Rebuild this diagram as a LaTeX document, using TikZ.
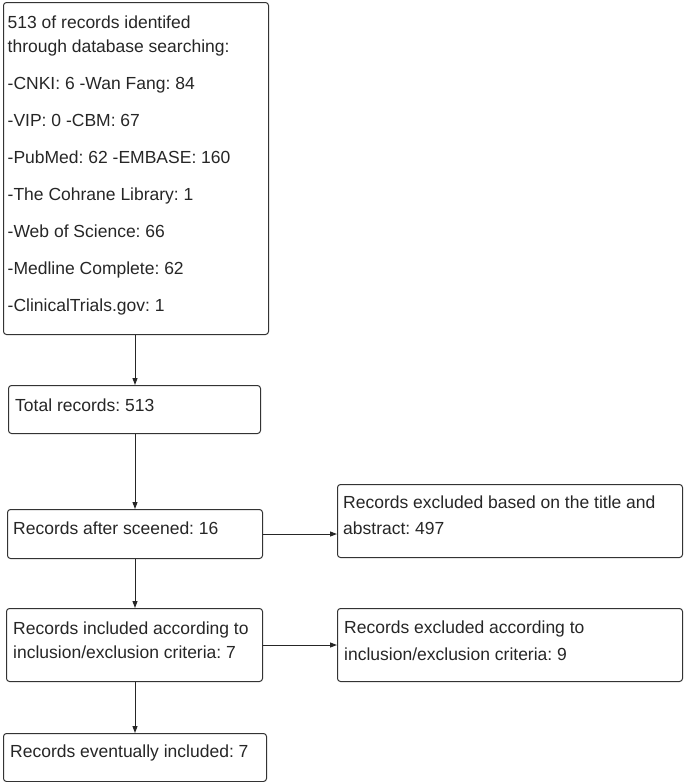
\documentclass[tikz,border=0pt]{standalone}
\usepackage{fontspec}
\setmainfont{Liberation Sans}
\usetikzlibrary{arrows.meta,calc}
\newcommand{\tstrut}{\rule{0pt}{13pt}}
\frenchspacing
\begin{document}
\begin{tikzpicture}[x=1pt,y=-1pt,
  box/.style={draw=black!80, line width=1pt, rounded corners=3pt, anchor=north west, inner sep=0pt},
  txt/.style={anchor=north west, inner sep=0pt, align=left, text=black!85,
    font=\fontsize{17.5}{25}\selectfont\frenchspacing},
  arr/.style={draw=black!85, line width=1pt, -{Triangle[length=7pt,width=5pt]}}]
\useasboundingbox (0,0) rectangle (685,782);
% boxes
\node[box, minimum width=265pt, minimum height=332pt] (b1) at (3,2) {};
\node[box, minimum width=252pt, minimum height=48pt] (b2) at (8,385) {};
\node[box, minimum width=255pt, minimum height=49pt] (b3) at (7,509) {};
\node[box, minimum width=345pt, minimum height=73pt] (b4) at (337,484) {};
\node[box, minimum width=256pt, minimum height=73pt] (b5) at (6,608) {};
\node[box, minimum width=345pt, minimum height=73pt] (b6) at (337,608) {};
\node[box, minimum width=263pt, minimum height=48pt] (b7) at (3,733) {};
% texts (first baseline = top offset + 13pt)
\node[txt, font=\fontsize{17.5}{24}\selectfont\frenchspacing] (t1) at ($(b1.north west)+(4.5,13)$)
  {\tstrut 513 of records identifed\\through database searching:\\[13pt]
   -CNKI: 6 -Wan Fang: 84\\[13pt]
   -VIP: 0 -CBM: 67\\[13pt]
   -PubMed: 62 -EMBASE: 160\\[13pt]
   -The Cohrane Library: 1\\[13pt]
   -Web of Science: 66\\[13pt]
   -Medline Complete: 62\\[13pt]
   -ClinicalTrials.gov: 1};
\node[txt] (t2) at ($(b2.north west)+(7,13)$) {\tstrut Total records: 513};
\node[txt] (t3) at ($(b3.north west)+(6,12)$) {\tstrut Records after sceened: 16};
\node[txt, font=\fontsize{17.5}{26.5}\selectfont\frenchspacing] (t4) at ($(b4.north west)+(6,11)$)
  {\tstrut Records excluded based on the title and\\abstract: 497};
\node[txt, font=\fontsize{17.5}{24.5}\selectfont\frenchspacing] (t5) at ($(b5.north west)+(7,13)$)
  {\tstrut Records included according to\\inclusion/exclusion criteria: 7};
\node[txt, font=\fontsize{17.5}{27}\selectfont\frenchspacing] (t6) at ($(b6.north west)+(7,12)$)
  {\tstrut Records excluded according to\\inclusion/exclusion criteria: 9};
\node[txt] (t7) at ($(b7.north west)+(7,11)$) {\tstrut Records eventually included: 7};
% connectors
\coordinate (ax) at (135,0);
\draw[arr] (ax |- b1.south) -- (ax |- b2.north);
\draw[arr] (ax |- b2.south) -- (ax |- b3.north);
\draw[arr] (ax |- b3.south) -- (ax |- b5.north);
\draw[arr] (ax |- b5.south) -- (ax |- b7.north);
\draw[arr] (b3.east) -- (b3.east -| b4.west);
\draw[arr] (b5.east) -- (b5.east -| b6.west);
\end{tikzpicture}
\end{document}
